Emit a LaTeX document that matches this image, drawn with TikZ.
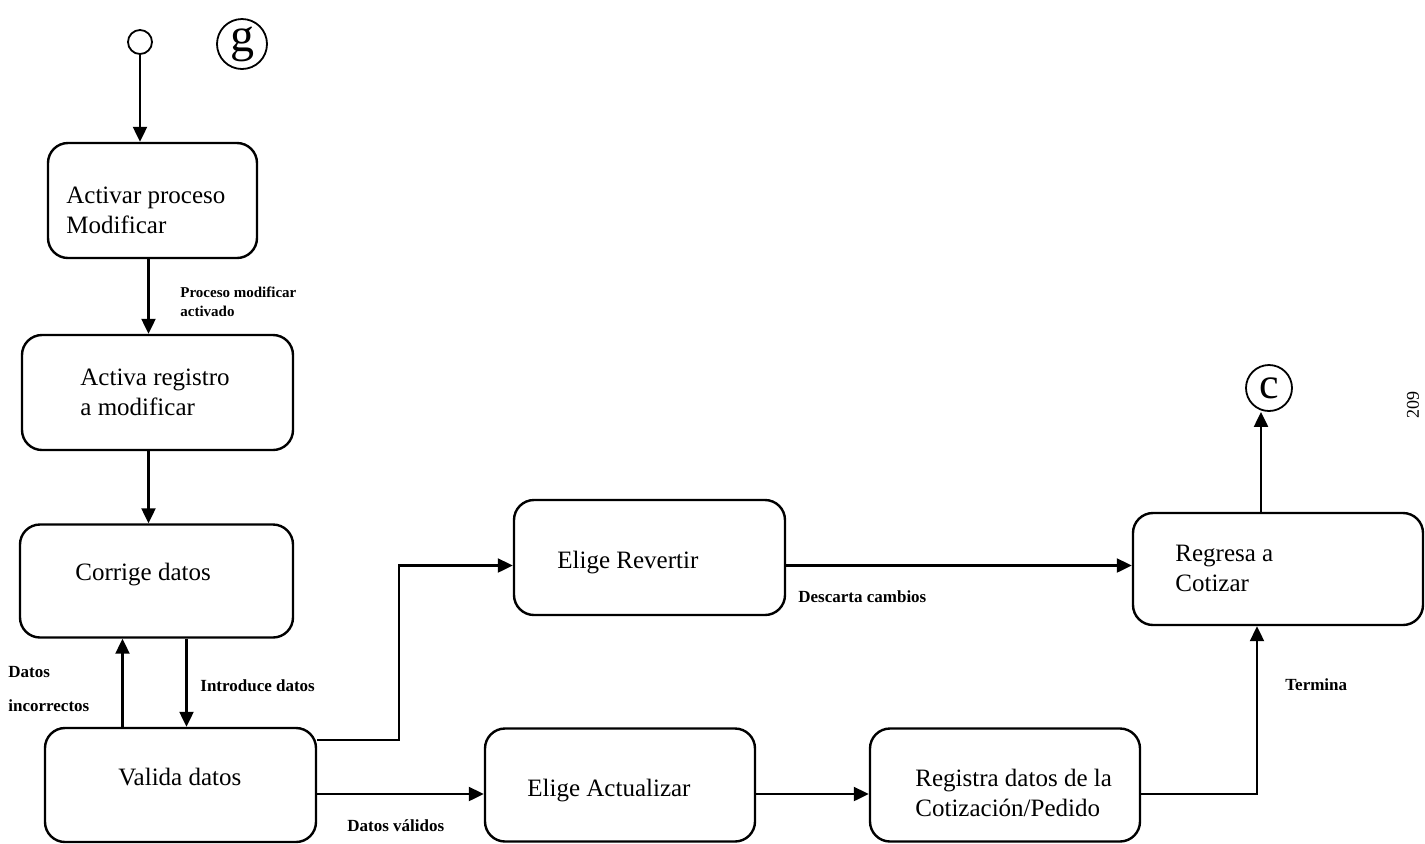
\documentclass[tikz,border=0pt]{standalone}
\usepackage{fontspec}
\setmainfont{Liberation Serif}
\usetikzlibrary{arrows.meta,calc}

\tikzset{
  estado/.style={draw, line width=1.2pt, rounded corners=10pt, inner sep=0pt},
  flecha/.style={-{Triangle[length=7.5pt,width=7pt]}, line width=1.1pt},
  conector/.style={draw, circle, line width=0.9pt, inner sep=0pt},
  texto/.style={anchor=west, inner sep=0pt, align=left, font=\fontsize{12.5}{15}\selectfont},
  etiqueta/.style={anchor=west, inner sep=0pt, align=left, font=\bfseries\fontsize{8.5}{10}\selectfont},
}

\begin{document}
\begin{tikzpicture}[x=0.5pt,y=0.5pt,yscale=-1,xscale=1]
\useasboundingbox (0,0) rectangle (1425,843);

% inicio y conectores
\node[conector, minimum size=12pt] (ini) at (140,42) {};
\node[conector, minimum size=25pt, font=\fontsize{24}{24}\selectfont] (cg) at (242,44) {g};
\node[conector, minimum size=23pt, font=\fontsize{22}{22}\selectfont] (cc) at (1269,388) {c};

% estados
\node[estado, minimum width=104.5pt, minimum height=57.5pt] (act) at (152.5,200.5) {};
\node[estado, minimum width=135.5pt, minimum height=57.5pt] (reg) at (157.5,392.5) {};
\node[estado, minimum width=136.5pt, minimum height=56.5pt] (cor) at (156.5,581) {};
\node[estado, minimum width=135.5pt, minimum height=57pt] (val) at (180.5,785) {};
\node[estado, minimum width=135.5pt, minimum height=57.5pt] (rev) at (649.5,557.5) {};
\node[estado, minimum width=135pt, minimum height=56.5pt] (actz) at (620,785) {};
\node[estado, minimum width=135pt, minimum height=56.5pt] (regd) at (1005,785) {};
\node[estado, minimum width=145pt, minimum height=56pt] (regr) at (1278,569) {};

% textos de los estados
\node[texto] (t-act) at (66,210) {Activar proceso\\Modificar};
\node[texto] (t-reg) at (80,392) {Activa registro\\a modificar};
\node[texto] (t-cor) at (75,575) {Corrige datos};
\node[texto] (t-val) at (118,777) {Valida datos};
\node[texto] (t-rev) at (557,563) {Elige Revertir};
\node[texto] (t-actz) at (527,791) {Elige Actualizar};
\node[texto] (t-regd) at (915,793) {Registra datos de la\\Cotización/Pedido};
\node[texto] (t-regr) at (1175,568) {Regresa a\\Cotizar};

% flechas
\coordinate (q1) at ($(act.south)+(-4,0)$);
\coordinate (q2) at ($(cor.south)+(30,0)$);
\coordinate (q3) at ($(val.north)+(-58,0)$);
\coordinate (p1) at ($(val.east)+(0,-45)$);
\coordinate (p2) at ($(rev.west)+(0,8)$);
\coordinate (p3) at ($(rev.east)+(0,8)$);
\coordinate (p4) at ($(val.east)+(0,9)$);
\coordinate (p5) at ($(regr.north)+(-17,0)$);
\coordinate (p6) at ($(regr.south)+(-21,0)$);

\draw[flecha] (ini) -- (ini |- act.north);
\draw[flecha] (q1) -- (q1 |- reg.north);
\draw[flecha] (q1 |- reg.south) -- (q1 |- cor.north);
\draw[flecha] (q2) -- (q2 |- val.north);
\draw[flecha] (q3) -- (q3 |- cor.south);
\draw[flecha] (p1) -- ++(82,0) |- (p2);
\draw[flecha] (p3) -- (p3 -| regr.west);
\draw[flecha] (p4) -- (p4 -| actz.west);
\draw[flecha] (p4 -| actz.east) -- (p4 -| regd.west);
\draw[flecha] (p4 -| regd.east) -| (p6);
\draw[flecha] (p5) -- (p5 |- cc.south);

% etiquetas
\node[etiqueta, font=\bfseries\fontsize{7.5}{9.5}\selectfont] (e1) at (180,302) {Proceso modificar\\activado};
\node[etiqueta] (e2) at (8,672) {Datos};
\node[etiqueta] (e3) at (8,706) {incorrectos};
\node[etiqueta] (e4) at (200,686) {Introduce datos};
\node[etiqueta] (e5) at (798,597) {Descarta cambios};
\node[etiqueta] (e6) at (347,826) {Datos válidos};
\node[etiqueta] (e7) at (1285,685) {Termina};

% numero de pagina
\node[rotate=90, inner sep=0pt, font=\fontsize{9}{10}\selectfont] (pag) at (1413,405) {209};
\end{tikzpicture}
\end{document}
